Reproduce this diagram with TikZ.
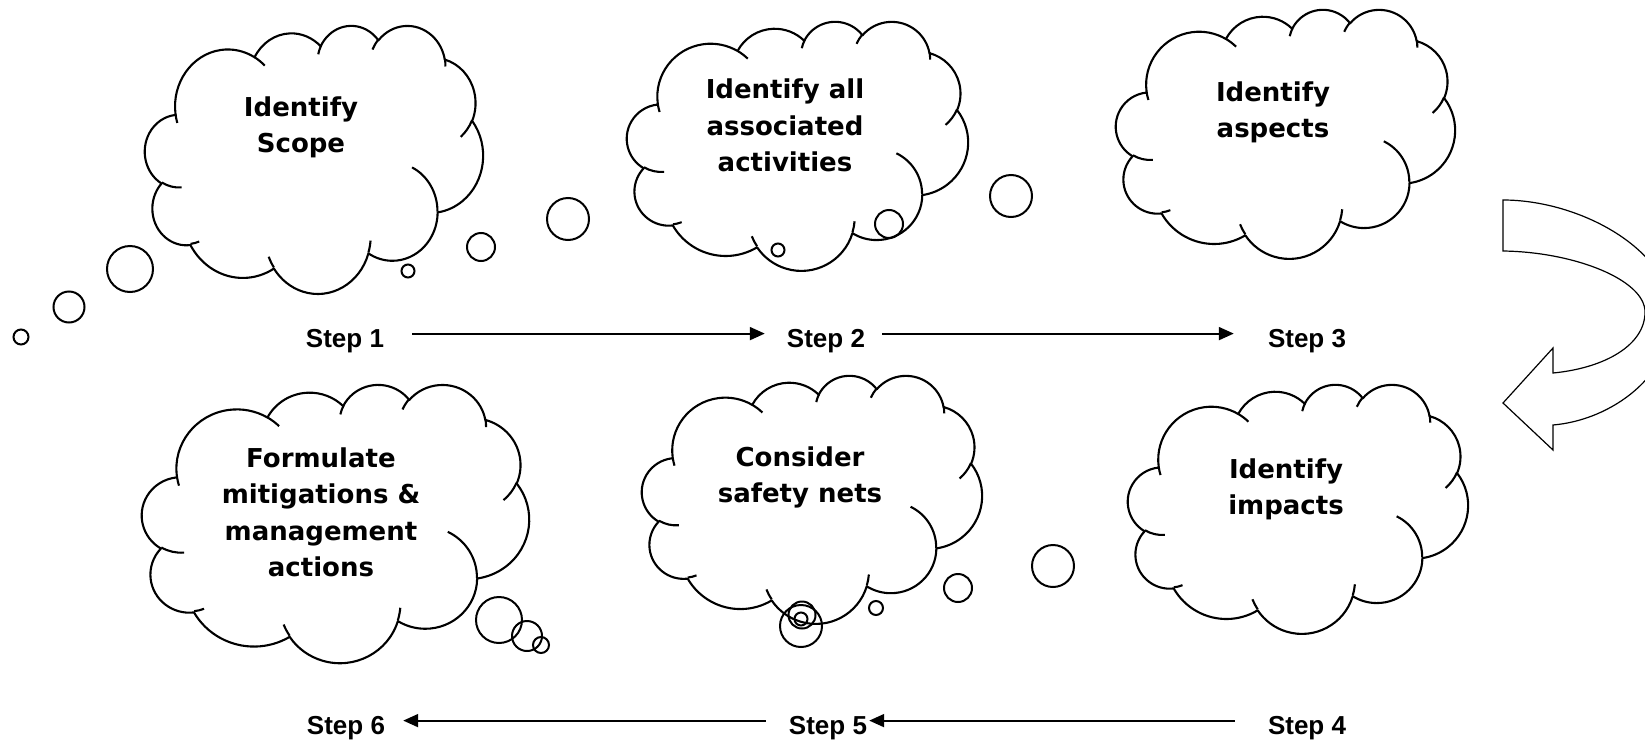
\documentclass[tikz,border=0pt]{standalone}
\usepackage{fontspec}
\newfontfamily\cloudfont{DejaVu Sans}
\newfontfamily\stepfont{Liberation Sans}
\usetikzlibrary{arrows.meta}
\tikzset{
  declare function={
    vpa(\p,\w,\h)=atan2(\w*sin(\p),\h*cos(\p));
    dva(\p,\q,\w,\h)=mod(vpa(\p+\q,\w,\h)-vpa(\p,\w,\h)+720,360);
  },
  cloudline/.style={draw=black, line width=2.1pt, line join=round},
  bub/.style={draw=black, line width=2pt},
  cloudtext/.style={font=\cloudfont\bfseries\fontsize{26}{36.5}\selectfont, align=center, inner sep=0pt, text=black},
  steplabel/.style={font=\stepfont\bfseries\fontsize{26}{30}\selectfont, inner sep=0pt, anchor=base, text=black},
  steparrow/.style={draw=black, line width=1.9pt, -{Triangle[length=15pt,width=13pt]}},
  uturn/.style={draw=black, line width=1.2pt, fill=white, line join=miter},
  wcloud/.pic={
    \draw[cloudline] (39.00,143.70)
      arc[start angle={vpa(-190.4875,67.53,91.90)}, delta angle={dva(-190.4875,123.7805,67.53,91.90)}, x radius=67.53, y radius=91.90]
      arc[start angle={vpa(-144.1024,53.33,72.67)}, delta angle={dva(-144.1024,89.9452,53.33,72.67)}, x radius=53.33, y radius=72.67]
      arc[start angle={vpa(-145.8079,43.65,59.45)}, delta angle={dva(-145.8079,99.7230,43.65,59.45)}, x radius=43.65, y radius=59.45]
      arc[start angle={vpa(-130.9861,48.57,65.95)}, delta angle={dva(-130.9861,117.2417,48.57,65.95)}, x radius=48.57, y radius=65.95]
      arc[start angle={vpa(-78.7089,53.33,72.73)}, delta angle={dva(-78.7089,109.0269,53.33,72.73)}, x radius=53.33, y radius=72.73]
      arc[start angle={vpa(-46.2673,67.75,92.20)}, delta angle={dva(-46.2673,130.2690,67.75,92.20)}, x radius=67.75, y radius=92.20]
      arc[start angle={vpa(0.6250,57.85,78.67)}, delta angle={dva(0.6250,114.0333,57.85,78.67)}, x radius=57.85, y radius=78.67]
      arc[start angle={vpa(22.4516,67.52,92.15)}, delta angle={dva(22.4516,115.1726,67.52,92.15)}, x radius=67.52, y radius=92.15]
      arc[start angle={vpa(66.2426,77.20,105.43)}, delta angle={dva(66.2426,75.7110,77.20,105.43)}, x radius=77.20, y radius=105.43]
      arc[start angle={vpa(-274.9421,43.60,59.18)}, delta angle={dva(-274.9421,146.7356,43.60,59.18)}, x radius=43.60, y radius=59.18]
      arc[start angle={vpa(-246.8285,43.45,59.45)}, delta angle={dva(-246.8285,152.5189,43.45,59.45)}, x radius=43.45, y radius=59.45]
      -- cycle;
    \draw[cloudline, line cap=butt]
      (46.93,261.77) arc[start angle={vpa(86.7420,43.45,59.45)}, delta angle={dva(86.7420,26.4295,43.45,59.45)}, x radius=43.45, y radius=59.45]
      (69.28,348.99) arc[start angle={vpa(73.6105,43.60,59.18)}, delta angle={dva(73.6105,11.4475,43.60,59.18)}, x radius=43.60, y radius=59.18]
      (164.78,390.90) arc[start angle={vpa(137.6242,67.52,92.15)}, delta angle={dva(137.6242,14.0811,67.52,92.15)}, x radius=67.52, y radius=92.15]
      (288.27,347.51) arc[start angle={vpa(6.4533,67.52,92.15)}, delta angle={dva(6.4533,15.9984,67.52,92.15)}, x radius=67.52, y radius=92.15]
      (341.29,229.54) arc[start angle={vpa(-70.2924,57.85,78.67)}, delta angle={dva(-70.2924,70.9174,57.85,78.67)}, x radius=57.85, y radius=78.67]
      (417.98,153.54) arc[start angle={vpa(30.3180,53.33,72.73)}, delta angle={dva(30.3180,27.7515,53.33,72.73)}, x radius=53.33, y radius=72.73]
      (383.24,54.26) arc[start angle={vpa(-13.7443,48.57,65.95)}, delta angle={dva(-13.7443,14.8589,48.57,65.95)}, x radius=48.57, y radius=65.95]
      (290.78,39.52) arc[start angle={vpa(-149.1815,48.57,65.95)}, delta angle={dva(-149.1815,18.1954,48.57,65.95)}, x radius=48.57, y radius=65.95]
      (221.41,47.20) arc[start angle={vpa(-163.4943,43.65,59.45)}, delta angle={dva(-163.4943,17.6864,43.65,59.45)}, x radius=43.65, y radius=59.45]
      (140.00,51.92) arc[start angle={vpa(-66.7070,67.53,91.90)}, delta angle={dva(-66.7070,12.3194,67.53,91.90)}, x radius=67.53, y radius=91.90]
      (41.27,157.89) arc[start angle={vpa(157.6544,67.53,91.90)}, delta angle={dva(157.6544,11.8582,67.53,91.90)}, x radius=67.53, y radius=91.90];
  }
}
\begin{document}
\begin{tikzpicture}[x=1pt, y=-1pt]
\useasboundingbox (0,0) rectangle (1645,744);
\clip (0,0) rectangle (1645,744);
\fill[white] (0,0) rectangle (1645,744);

% clouds
\pic[xscale=0.7824, yscale=0.6204] at (145,25) {wcloud};
\pic[xscale=0.7894, yscale=0.5764] at (627,21) {wcloud};
\pic[xscale=0.7847, yscale=0.5764] at (1116,9) {wcloud};
\pic[xscale=0.7870, yscale=0.5764] at (1128,384) {wcloud};
\pic[xscale=0.7870, yscale=0.5741] at (642,375) {wcloud};
\pic[xscale=0.8960, yscale=0.6440] at (142,384) {wcloud};

% cloud texts
\node[cloudtext] (t1) at (301,127.5) {Identify\\Scope};
\node[cloudtext] (t2) at (785,125.5) {Identify all\\associated\\activities};
\node[cloudtext] (t3) at (1273,112.5) {Identify\\aspects};
\node[cloudtext] (t4) at (1286,489.5) {Identify\\impacts};
\node[cloudtext] (t5) at (800,477.5) {Consider\\safety nets};
\node[cloudtext] (t6) at (321,512.5) {Formulate\\mitigations \&\\management\\actions};

% thought bubbles
\draw[bub] (21,337) circle[radius=7.5];
\draw[bub] (69,307) circle[radius=15.5];
\draw[bub] (130,269) circle[radius=23];
\draw[bub] (408,271) circle[radius=6.5];
\draw[bub] (481,247) circle[radius=14];
\draw[bub] (568,219) circle[radius=21];
\draw[bub] (778,250) circle[radius=6.5];
\draw[bub] (889,224) circle[radius=14];
\draw[bub] (1011,196) circle[radius=21];
\draw[bub] (1053,566) circle[radius=21];
\draw[bub] (958,588) circle[radius=14];
\draw[bub] (876,608) circle[radius=7];
\draw[bub] (801,626) circle[radius=21];
\draw[bub] (802,615) circle[radius=13.5];
\draw[bub] (801,619) circle[radius=6.5];
\draw[bub] (499,620) circle[radius=23];
\draw[bub] (527,636) circle[radius=15];
\draw[bub] (541,645) circle[radius=8];

% step labels
\node[steplabel] (s1) at (345,347) {Step 1};
\node[steplabel] (s2) at (826,347) {Step 2};
\node[steplabel] (s3) at (1307,347) {Step 3};
\node[steplabel] (s4) at (1307,734) {Step 4};
\node[steplabel] (s5) at (828,734) {Step 5};
\node[steplabel] (s6) at (346,734) {Step 6};

% step arrows
\draw[steparrow] ([xshift=28pt,yshift=13.4pt]s1.base east) -- ([xshift=-22pt,yshift=13.4pt]s2.base west);
\draw[steparrow] ([xshift=17pt,yshift=13.4pt]s2.base east) -- ([xshift=-34pt,yshift=13.4pt]s3.base west);
\draw[steparrow] ([xshift=-33pt,yshift=13.4pt]s4.base west) -- ([xshift=2pt,yshift=13.4pt]s5.base east);
\draw[steparrow] ([xshift=-23pt,yshift=13.4pt]s5.base west) -- ([xshift=18pt,yshift=13.4pt]s6.base east);

% U-turn arrow
\draw[uturn] (1503,200)
  .. controls (1580,200) and (1672,250) .. (1672,316)
  .. controls (1672,375) and (1612,420) .. (1553,425)
  -- (1553,450) -- (1503,403) -- (1553,348) -- (1553,373)
  .. controls (1605,368) and (1645,345) .. (1645,312)
  .. controls (1645,280) and (1575,252) .. (1503,251)
  -- cycle;
\end{tikzpicture}
\end{document}
